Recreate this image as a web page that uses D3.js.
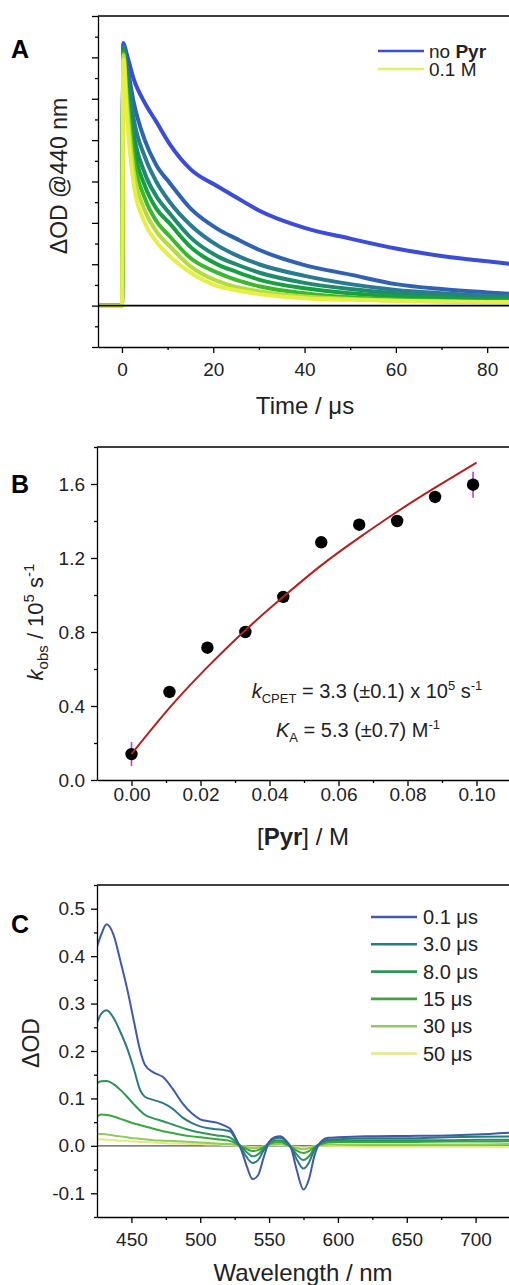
<!DOCTYPE html>
<html>
<head>
<meta charset="utf-8">
<script src="https://cdn.jsdelivr.net/npm/d3@7"></script>
<style>
  body { margin: 0; background: #fff; }
  svg { display: block; font-family: Arial, "Liberation Sans", sans-serif; }
  .axis path, .axis line { stroke: #000; stroke-width: 1.3; }
  .axis text { font-size: 19px; fill: #222; font-family: Arial, "Liberation Sans", sans-serif; }
</style>
</head>
<body>
<svg id="chart" width="509" height="1285"></svg>
<script>
// ---- panel A: kinetic traces at 440 nm (arb. units)
var timeUs = [-5.3, -2.5, 0, 0.3, 1, 2.5, 5, 7.5, 10.5, 15, 21, 25, 30, 40, 50, 60, 70, 80, 86];
var decay1 = [0, 0, 0, 6.35, 6.1, 5.5, 4.9, 4.45, 3.9, 3.3, 2.88, 2.62, 2.3, 1.88, 1.62, 1.38, 1.2, 1.07, 1.0];
var decay2 = [0, 0, 0, 6.3, 5.9, 4.95, 4.0, 3.4, 2.96, 2.35, 1.85, 1.62, 1.35, 0.98, 0.75, 0.52, 0.4, 0.32, 0.28];
var decay3 = [0, 0, 0, 6.25, 5.8, 4.55, 3.6, 3.0, 2.5, 1.95, 1.45, 1.22, 1.0, 0.72, 0.52, 0.38, 0.3, 0.24, 0.22];
var decay4 = [0, 0, 0, 6.2, 5.6, 4.2, 3.2, 2.65, 2.22, 1.65, 1.19, 1.0, 0.8, 0.55, 0.4, 0.3, 0.24, 0.2, 0.18];
var decay5 = [0, 0, 0, 6.15, 5.4, 3.9, 2.9, 2.35, 1.98, 1.42, 0.99, 0.82, 0.63, 0.42, 0.3, 0.22, 0.18, 0.15, 0.14];
var decay6 = [0, 0, 0, 6.1, 5.2, 3.6, 2.6, 2.05, 1.67, 1.15, 0.79, 0.62, 0.47, 0.3, 0.2, 0.15, 0.12, 0.1, 0.1];
var decay7 = [0, 0, 0, 6.05, 5.0, 3.3, 2.3, 1.8, 1.43, 0.95, 0.59, 0.45, 0.35, 0.22, 0.16, 0.12, 0.1, 0.08, 0.08];
var decay8 = [0, 0, 0, 5.95, 4.7, 3.0, 2.0, 1.55, 1.19, 0.8, 0.47, 0.37, 0.28, 0.18, 0.14, 0.12, 0.1, 0.09, 0.09];
var decayLegend = ["no Pyr", "0.1 M"];

// ---- panel B: k_obs vs [Pyr]
var pyrConc = [0, 0.011, 0.022, 0.033, 0.044, 0.055, 0.066, 0.077, 0.088, 0.099];
var kObs = [0.14, 0.476, 0.715, 0.80, 0.99, 1.285, 1.38, 1.40, 1.53, 1.596];
var kErr = [0.065, 0.02, 0.02, 0.02, 0.02, 0.02, 0.02, 0.02, 0.02, 0.07];
var fitConc = [0, 0.011, 0.022, 0.033, 0.044, 0.055, 0.066, 0.077, 0.088, 0.1];
var fitK = [0.14, 0.39, 0.61, 0.81, 0.99, 1.16, 1.31, 1.45, 1.58, 1.715];

// ---- panel C: transient spectra
var wavelength = [425, 428, 432, 437, 442, 447, 452, 456, 460, 466, 473, 480, 487, 494, 500, 506, 512, 518, 522, 526,
  530, 534, 538, 542, 546, 550, 554, 558, 562, 566, 570, 575, 579, 583, 588, 593, 600, 620, 650, 680, 700, 725];
var spec01 = [0.42, 0.445, 0.467, 0.445, 0.39, 0.33, 0.26, 0.205, 0.17, 0.155, 0.145, 0.12, 0.09, 0.068, 0.056, 0.052, 0.049, 0.042, 0.035, 0.015,
  -0.01, -0.045, -0.07, -0.062, -0.025, 0.008, 0.018, 0.02, 0.012, -0.005, -0.05, -0.092, -0.07, -0.02, 0.01, 0.017, 0.018, 0.02, 0.021, 0.022, 0.024, 0.028];
var spec3 = [0.26, 0.278, 0.286, 0.27, 0.24, 0.205, 0.16, 0.12, 0.103, 0.097, 0.09, 0.078, 0.06, 0.048, 0.041, 0.037, 0.035, 0.033, 0.03, 0.012,
  -0.006, -0.025, -0.036, -0.03, -0.01, 0.008, 0.015, 0.017, 0.01, -0.004, -0.028, -0.048, -0.035, -0.008, 0.008, 0.013, 0.014, 0.016, 0.016, 0.018, 0.019, 0.02];
var spec8 = [0.132, 0.136, 0.137, 0.13, 0.118, 0.103, 0.087, 0.075, 0.065, 0.058, 0.052, 0.045, 0.038, 0.032, 0.028, 0.025, 0.022, 0.02, 0.017, 0.008,
  -0.003, -0.014, -0.022, -0.018, -0.006, 0.006, 0.011, 0.012, 0.007, -0.003, -0.018, -0.03, -0.022, -0.005, 0.006, 0.01, 0.011, 0.012, 0.012, 0.012, 0.013, 0.013];
var spec15 = [0.062, 0.066, 0.065, 0.062, 0.057, 0.052, 0.047, 0.044, 0.041, 0.036, 0.031, 0.027, 0.023, 0.02, 0.018, 0.016, 0.014, 0.012, 0.01, 0.005,
  -0.001, -0.007, -0.011, -0.009, -0.003, 0.004, 0.007, 0.008, 0.004, -0.002, -0.01, -0.015, -0.011, -0.003, 0.004, 0.007, 0.008, 0.008, 0.008, 0.009, 0.009, 0.01];
var spec30 = [0.025, 0.025, 0.024, 0.022, 0.02, 0.018, 0.016, 0.015, 0.014, 0.012, 0.011, 0.01, 0.009, 0.008, 0.007, 0.006, 0.005, 0.004, 0.004, 0.002,
  0, -0.003, -0.005, -0.004, -0.001, 0.002, 0.003, 0.004, 0.002, -0.001, -0.005, -0.007, -0.005, -0.001, 0.002, 0.003, 0.003, 0.003, 0.003, 0.003, 0.003, 0.004];
var spec50 = [0.014, 0.014, 0.013, 0.012, 0.011, 0.01, 0.009, 0.008, 0.008, 0.007, 0.006, 0.005, 0.005, 0.004, 0.004, 0.003, 0.003, 0.002, 0.002, 0.001,
  0, -0.002, -0.003, -0.003, -0.001, 0.001, 0.002, 0.002, 0.001, -0.001, -0.003, -0.004, -0.003, -0.001, 0, 0, -0.001, -0.002, -0.002, -0.002, -0.002, -0.002];
var specLabels = ["0.1 \u03bcs", "3.0 \u03bcs", "8.0 \u03bcs", "15 \u03bcs", "30 \u03bcs", "50 \u03bcs"];

var decays = [decay1, decay2, decay3, decay4, decay5, decay6, decay7, decay8];
var decayColors = ["#3a4cd8", "#2f63b0", "#2a7b92", "#1f8a70", "#16a040", "#3cb82c", "#b4dc3c", "#e6ef44"];
var specs = [spec01, spec3, spec8, spec15, spec30, spec50];
var specColors = ["#3f5ba8", "#2c7a80", "#2e9558", "#3aa83a", "#8fcd5a", "#e2ea80"];

var svg = d3.select("#chart");

function drawAxes(g, x, y, o) {
  var x0 = x.range()[0], y0 = y.range()[0], y1 = y.range()[1];
  g.append("g").attr("class", "axis").attr("transform", "translate(0," + y0 + ")")
    .call(d3.axisBottom(x).tickValues(o.xMinor).tickSize(3).tickFormat(""))
    .call(function(s) { s.select(".domain").remove(); });
  g.append("g").attr("class", "axis").attr("transform", "translate(0," + y0 + ")")
    .call(d3.axisBottom(x).tickValues(o.xMajor).tickSizeInner(6).tickSizeOuter(0)
      .tickPadding(o.xPad).tickFormat(o.xFmt));
  g.append("g").attr("class", "axis").attr("transform", "translate(" + x0 + ",0)")
    .call(d3.axisLeft(y).tickValues(o.yMinor).tickSize(3).tickFormat(""))
    .call(function(s) { s.select(".domain").remove(); });
  g.append("g").attr("class", "axis").attr("transform", "translate(" + x0 + ",0)")
    .call(d3.axisLeft(y).tickValues(o.yMajor).tickSizeInner(6).tickSizeOuter(0)
      .tickPadding(6).tickFormat(o.yFmt));
  g.append("line").attr("x1", x0).attr("x2", 512).attr("y1", y1).attr("y2", y1)
    .attr("stroke", "#000").attr("stroke-width", 1.3);
}

function clip(id, x, y) {
  svg.append("clipPath").attr("id", id).append("rect")
    .attr("x", x.range()[0]).attr("y", y.range()[1])
    .attr("width", 515 - x.range()[0]).attr("height", y.range()[0] - y.range()[1]);
}

function panelLabel(txt, x, y) {
  svg.append("text").attr("x", x).attr("y", y).attr("font-size", 25).attr("font-weight", "bold").text(txt);
}

// ================= Panel A =================
var xA = d3.scaleLinear().domain([-5.25, 85]).range([98, 510]);
var yA = d3.scaleLinear().domain([-1, 7]).range([347, 16]);
var gA = svg.append("g");
clip("clipA", xA, yA);
var lineA = d3.line().x(function(d) { return xA(d[0]); }).y(function(d) { return yA(d[1]); })
  .curve(d3.curveMonotoneX);
gA.append("g").attr("clip-path", "url(#clipA)").selectAll("path")
  .data(decays).enter().append("path")
  .attr("d", function(d) { return lineA(d3.zip(timeUs, d)); })
  .attr("fill", "none").attr("stroke", function(d, i) { return decayColors[i]; })
  .attr("stroke-width", 4).attr("stroke-linejoin", "round");
gA.append("line").attr("x1", xA(-5.25)).attr("x2", xA(85)).attr("y1", yA(0)).attr("y2", yA(0))
  .attr("stroke", "#000").attr("stroke-width", 1.8);
drawAxes(gA, xA, yA, {
  xMajor: [0, 20, 40, 60, 80], xMinor: [10, 30, 50, 70], xPad: 10, xFmt: d3.format("d"),
  yMajor: d3.range(-1, 7.01, 1), yMinor: d3.range(-0.5, 7, 1), yFmt: function() { return ""; }
});
// legend A
var legA = gA.append("g");
[0, 1].forEach(function(i) {
  var ly = 51 + i * 18;
  legA.append("line").attr("x1", 378).attr("x2", 424).attr("y1", ly).attr("y2", ly)
    .attr("stroke", i === 0 ? decayColors[0] : "#e4ee66").attr("stroke-width", 2.6);
});
var tA1 = legA.append("text").attr("x", 429).attr("y", 57.5).attr("font-size", 19).attr("fill", "#222");
tA1.append("tspan").text("no ");
tA1.append("tspan").attr("font-weight", "bold").text("Pyr");
legA.append("text").attr("x", 429).attr("y", 76).attr("font-size", 19).attr("fill", "#222").text(decayLegend[1]);
svg.append("text").attr("transform", "translate(67,176) rotate(-90)").attr("text-anchor", "middle")
  .attr("font-size", 23).attr("fill", "#222").text("\u0394OD @440 nm");
svg.append("text").attr("x", 305).attr("y", 414).attr("text-anchor", "middle")
  .attr("font-size", 24).attr("fill", "#222").text("Time / \u03bcs");
panelLabel("A", 11, 58);

// ================= Panel B =================
var xB = d3.scaleLinear().domain([-0.01, 0.11]).range([97, 511]);
var yB = d3.scaleLinear().domain([0, 1.8]).range([780, 447]);
var gB = svg.append("g");
drawAxes(gB, xB, yB, {
  xMajor: [0, 0.02, 0.04, 0.06, 0.08, 0.10], xMinor: [0.01, 0.03, 0.05, 0.07, 0.09], xPad: 2, xFmt: d3.format(".2f"),
  yMajor: [0, 0.4, 0.8, 1.2, 1.6], yMinor: [0.2, 0.6, 1.0, 1.4, 1.8], yFmt: d3.format(".1f")
});
gB.selectAll("line.err").data(pyrConc).enter().append("line").attr("class", "err")
  .attr("x1", function(d) { return xB(d); }).attr("x2", function(d) { return xB(d); })
  .attr("y1", function(d, i) { return yB(kObs[i] - kErr[i]); })
  .attr("y2", function(d, i) { return yB(kObs[i] + kErr[i]); })
  .attr("stroke", "#c03ad8").attr("stroke-width", 1.6);
gB.selectAll("circle").data(pyrConc).enter().append("circle")
  .attr("cx", function(d) { return xB(d); }).attr("cy", function(d, i) { return yB(kObs[i]); })
  .attr("r", 6.2).attr("fill", "#000");
gB.append("path")
  .attr("d", d3.line().x(function(d) { return xB(d[0]); }).y(function(d) { return yB(d[1]); })
    .curve(d3.curveNatural)(d3.zip(fitConc, fitK)))
  .attr("fill", "none").attr("stroke", "#b3201e").attr("stroke-width", 2);
var an1 = gB.append("text").attr("x", 367).attr("y", 698).attr("text-anchor", "middle")
  .attr("font-size", 20).attr("fill", "#222");
an1.append("tspan").attr("font-style", "italic").text("k");
an1.append("tspan").attr("font-size", 13).attr("dy", 5).text("CPET");
an1.append("tspan").attr("dy", -5).text(" = 3.3 (\u00b10.1) x 10");
an1.append("tspan").attr("font-size", 13).attr("dy", -8).text("5");
an1.append("tspan").attr("dy", 8).text(" s");
an1.append("tspan").attr("font-size", 13).attr("dy", -8).text("-1");
var an2 = gB.append("text").attr("x", 358).attr("y", 737).attr("text-anchor", "middle")
  .attr("font-size", 20).attr("fill", "#222");
an2.append("tspan").attr("font-style", "italic").text("K");
an2.append("tspan").attr("font-size", 13).attr("dy", 5).text("A");
an2.append("tspan").attr("dy", -5).text(" = 5.3 (\u00b10.7) M");
an2.append("tspan").attr("font-size", 13).attr("dy", -8).text("-1");
var yl = svg.append("text").attr("transform", "translate(43,622) rotate(-90)").attr("text-anchor", "middle")
  .attr("font-size", 22).attr("fill", "#222");
yl.append("tspan").attr("font-style", "italic").text("k");
yl.append("tspan").attr("font-size", 15).attr("dy", 5).text("obs");
yl.append("tspan").attr("dy", -5).text(" / 10");
yl.append("tspan").attr("font-size", 15).attr("dy", -9).text("5");
yl.append("tspan").attr("dy", 9).text(" s");
yl.append("tspan").attr("font-size", 15).attr("dy", -9).text("-1");
var xl = svg.append("text").attr("x", 303).attr("y", 845).attr("text-anchor", "middle")
  .attr("font-size", 24).attr("fill", "#222");
xl.append("tspan").text("[");
xl.append("tspan").attr("font-weight", "bold").text("Pyr");
xl.append("tspan").text("] / M");
panelLabel("B", 11, 493);

// ================= Panel C =================
var xC = d3.scaleLinear().domain([425, 725]).range([97, 510]);
var yC = d3.scaleLinear().domain([-0.15, 0.55]).range([1217, 885]);
var gC = svg.append("g");
clip("clipC", xC, yC);
gC.append("line").attr("x1", xC(425)).attr("x2", xC(725)).attr("y1", yC(0)).attr("y2", yC(0))
  .attr("stroke", "#555").attr("stroke-width", 1.2);
var lineC = d3.line().x(function(d) { return xC(d[0]); }).y(function(d) { return yC(d[1]); })
  .curve(d3.curveMonotoneX);
gC.append("g").attr("clip-path", "url(#clipC)").selectAll("path")
  .data(specs.slice().reverse()).enter().append("path")
  .attr("d", function(d) { return lineC(d3.zip(wavelength, d)); })
  .attr("fill", "none").attr("stroke", function(d, i) { return specColors[specs.length - 1 - i]; })
  .attr("stroke-width", 2);
drawAxes(gC, xC, yC, {
  xMajor: [450, 500, 550, 600, 650, 700], xMinor: [475, 525, 575, 625, 675], xPad: 10, xFmt: d3.format("d"),
  yMajor: [-0.1, 0, 0.1, 0.2, 0.3, 0.4, 0.5], yMinor: [-0.15, -0.05, 0.05, 0.15, 0.25, 0.35, 0.45, 0.55],
  yFmt: function(d) { return d3.format(".1f")(d).replace("\u2212", "-"); }
});
var legC = gC.append("g");
specLabels.forEach(function(lab, i) {
  var ly = 917 + i * 27.3;
  legC.append("line").attr("x1", 371).attr("x2", 417).attr("y1", ly).attr("y2", ly)
    .attr("stroke", specColors[i]).attr("stroke-width", 2.6);
  legC.append("text").attr("x", 423).attr("y", ly + 7).attr("font-size", 20).attr("fill", "#222").text(lab);
});
svg.append("text").attr("transform", "translate(39,1043) rotate(-90)").attr("text-anchor", "middle")
  .attr("font-size", 23).attr("fill", "#222").text("\u0394OD");
svg.append("text").attr("x", 303).attr("y", 1281).attr("text-anchor", "middle")
  .attr("font-size", 24).attr("fill", "#222").text("Wavelength / nm");
panelLabel("C", 11, 933);
</script>
</body>
</html>
